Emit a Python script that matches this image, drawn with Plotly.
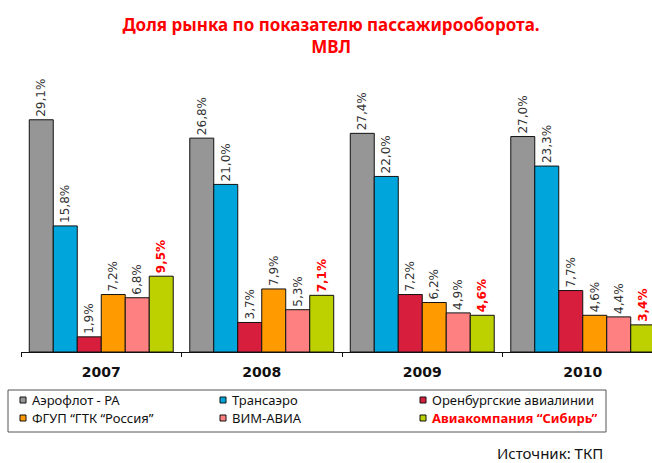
import plotly.graph_objects as go

years = ["2007", "2008", "2009", "2010"]
companies = ["Аэрофлот - РА", "Трансаэро", "Оренбургские авиалинии",
             "ФГУП \u201cГТК \u201cРоссия\u201d", "ВИМ-АВИА", "Авиакомпания \u201cСибирь\u201d"]
aeroflot = [29.1, 26.8, 27.4, 27.0]
transaero = [15.8, 21.0, 22.0, 23.3]
orenburg = [1.9, 3.7, 7.2, 7.7]
rossiya = [7.2, 7.9, 6.2, 4.6]
vim = [6.8, 5.3, 4.9, 4.4]
sibir = [9.5, 7.1, 4.6, 3.4]
colors = ["#969696", "#00a6db", "#d71e3c", "#ff9b00", "#ff8080", "#bdd000"]

series = [aeroflot, transaero, orenburg, rossiya, vim, sibir]

W, H = 652, 463
L, R, T, B = 21, 0, 80, 111
pw, ph = W - L - R, H - T - B
cat_px = 160.5  # width of one year group in pixels


def px_x(x):
    # pixel x -> paper coords
    return (x - L) / pw


def px_y(y):
    # pixel y -> paper coords
    return (H - B - y) / ph


fig = go.Figure()
for i, (name, vals) in enumerate(zip(companies, series)):
    last = i == len(series) - 1
    fig.add_trace(go.Bar(
        x=years, y=vals, name=name,
        marker=dict(color=colors[i], line=dict(color="#111", width=1)),
        text=[f"{v:.1f}%".replace(".", ",") for v in vals],
        textposition="outside", textangle=-90, constraintext="none",
        cliponaxis=False,
        textfont=dict(family="DejaVu Sans", size=12,
                      color="#ff0000" if last else "#333",
                      weight="bold" if last else "normal"),
        showlegend=False))

# legend drawn by hand: 3 columns x 2 rows
col_x = [20, 220, 420]
row_y = [400, 418]
shapes = [dict(type="rect", xref="paper", yref="paper",
               x0=px_x(8), x1=px_x(606), y0=px_y(390), y1=px_y(432),
               line=dict(color="#555", width=1), fillcolor="rgba(0,0,0,0)")]
annotations = []
for i, name in enumerate(companies):
    cx = col_x[i % 3]
    cy = row_y[i // 3]
    shapes.append(dict(type="rect", xref="paper", yref="paper",
                       x0=px_x(cx), x1=px_x(cx + 6), y0=px_y(cy - 3), y1=px_y(cy + 3),
                       fillcolor=colors[i], line=dict(color="#111", width=1)))
    last = i == len(companies) - 1
    annotations.append(dict(
        xref="paper", yref="paper", x=px_x(cx + 10), y=px_y(cy),
        xanchor="left", yanchor="middle", showarrow=False,
        text=f"<b>{name}</b>" if last else name,
        font=dict(family="Noto Sans", size=13,
                  color="#ff0000" if last else "#111")))

annotations.append(dict(
    xref="paper", yref="paper", x=px_x(604), y=px_y(453),
    xanchor="right", yanchor="middle", showarrow=False, borderpad=0,
    text="Источник: ТКП", font=dict(family="Noto Sans", size=15, color="#111")))

fig.update_layout(
    width=W, height=H,
    margin=dict(l=L, r=R, t=T, b=B),
    paper_bgcolor="white", plot_bgcolor="white",
    barmode="group", bargap=0.103, bargroupgap=0,
    title=dict(text="Доля рынка по показателю пассажирооборота.<br>МВЛ",
               x=331 / W, xanchor="center", y=1 - 31 / H, yanchor="middle",
               font=dict(family="Noto Sans", size=17, color="#ff0000", weight="bold")),
    xaxis=dict(type="category", range=[-0.5, -0.5 + pw / cat_px],
               showline=True, linecolor="#111", linewidth=1,
               ticks="outside", tickson="boundaries", ticklen=4, tickcolor="#111",
               ticklabelstandoff=7,
               tickfont=dict(family="DejaVu Sans", size=14, color="#111", weight="bold"),
               showgrid=False, zeroline=False),
    yaxis=dict(range=[0, ph / 7.98], visible=False, showgrid=False, zeroline=False),
    shapes=shapes, annotations=annotations,
)

# page body has an 8px default margin; drop it so the figure fills the window
fig.write_html("out.html", config={"displayModeBar": False},
               post_script="document.body.style.margin='0';")
